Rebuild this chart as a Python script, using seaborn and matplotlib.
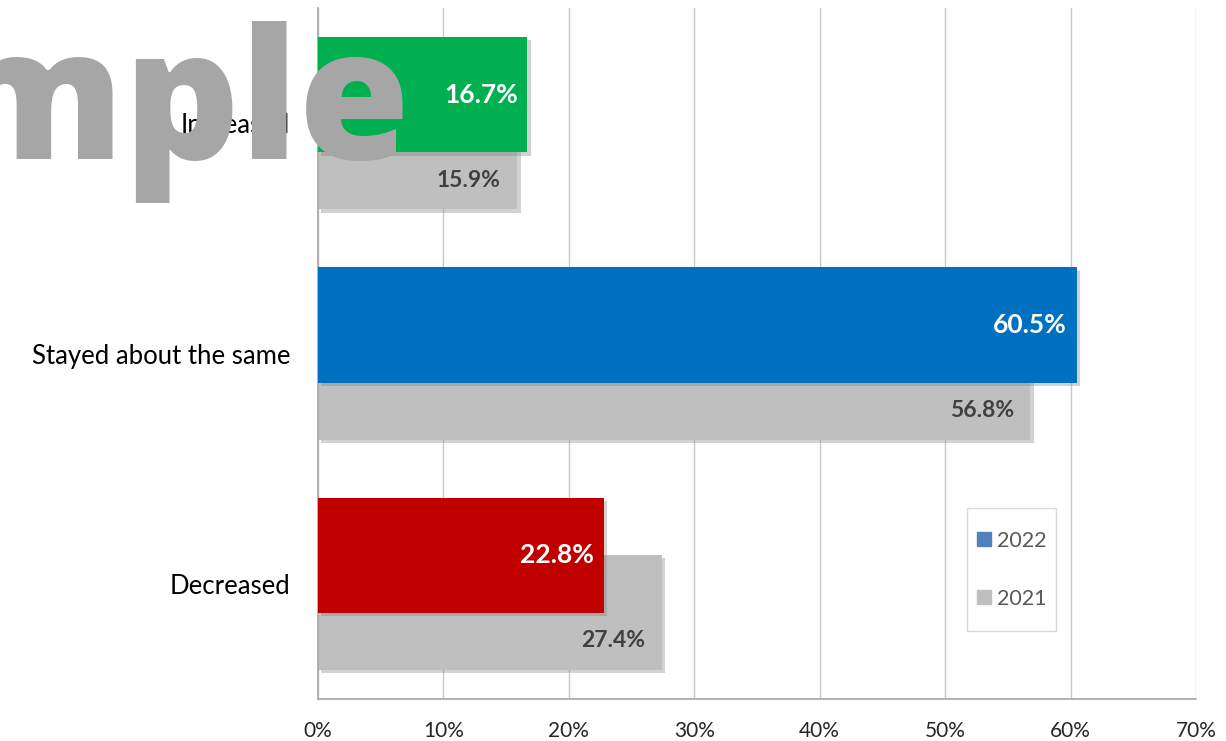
import matplotlib
matplotlib.use("Agg")
import matplotlib.pyplot as plt
import matplotlib.patheffects as pe
from matplotlib.lines import Line2D
from matplotlib.patches import Rectangle
from matplotlib.ticker import FuncFormatter, FixedLocator
import seaborn as sns
import pandas as pd

categories = ["Increased", "Stayed about the same", "Decreased"]
values_2022 = [16.7, 60.5, 22.8]
values_2021 = [15.9, 56.8, 27.4]
colors_2022 = ["#00B050", "#0070C0", "#C00000"]
color_2021 = "#BFBFBF"
legend_labels = ["2022", "2021"]
legend_colors = ["#4F81BD", "#BFBFBF"]
x_ticks = [0, 10, 20, 30, 40, 50, 60, 70]

sns.set_theme(style="white")
plt.rcParams["font.family"] = ["Lato", "DejaVu Sans"]

df21 = pd.DataFrame({"category": categories, "value": values_2021})
df22 = pd.DataFrame({"category": categories, "value": values_2022})

fig = plt.figure(figsize=(12.26, 7.41), dpi=100)
ax = fig.add_axes([318/1226, 1-699/741, 878/1226, 691/741])

OFF = 0.124
H = 0.5

shadow = [pe.SimplePatchShadow(offset=(2.5, -2.5), shadow_rgbFace="#7F7F7F", alpha=0.35), pe.Normal()]

sns.barplot(data=df21, x="value", y="category", order=categories, color=color_2021,
            width=H, ax=ax, saturation=1, zorder=2)
n21 = len(ax.patches)
for p in ax.patches:
    p.set_y(p.get_y() + OFF)
    p.set_path_effects(shadow)
    p.set_linewidth(0)

sns.barplot(data=df22, x="value", y="category", order=categories, hue="category",
            palette=colors_2022, width=H, ax=ax, saturation=1, legend=False, zorder=3)
for p in ax.patches[n21:]:
    p.set_y(p.get_y() - OFF)
    p.set_path_effects(shadow)
    p.set_linewidth(0)

# value labels
for i, (v22, v21) in enumerate(zip(values_2022, values_2021)):
    ax.annotate(f"{v22:.1f}%", xy=(v22, i - OFF), xytext=(-7, 0), textcoords="offset points",
                ha="right", va="center", color="white", fontsize=19, fontweight="bold", zorder=5)
    ax.annotate(f"{v21:.1f}%", xy=(v21, i + 2 * OFF), xytext=(-12, 0), textcoords="offset points",
                ha="right", va="center", color="#404040", fontsize=16.5, fontweight="bold", zorder=5)

ax.set_xlim(0, 70)
ax.set_ylim(2.5, -0.5)
ax.xaxis.set_major_locator(FixedLocator(x_ticks))
ax.xaxis.set_major_formatter(FuncFormatter(lambda v, pos: f"{v:.0f}%"))
ax.set_yticks(range(len(categories)))
ax.set_yticklabels(categories)
ax.set_yticks([-0.5, 0.5, 1.5, 2.5], minor=True)
ax.tick_params(axis="y", which="major", length=0, pad=20, labelsize=18.5, labelcolor="#000000")
ax.tick_params(axis="y", which="minor", length=7, width=1, color="#A6A6A6", direction="out")
ax.tick_params(axis="x", which="major", length=6, width=1, color="#A6A6A6", direction="out",
               labelsize=15, labelcolor="#262626", pad=10)
ax.set_xlabel("")
ax.set_ylabel("")

ax.grid(axis="x", color="#C8C8C8", linewidth=1, zorder=0)
ax.set_axisbelow(True)
for s in ["top", "right"]:
    ax.spines[s].set_visible(False)
for s in ["left", "bottom"]:
    ax.spines[s].set_color("#A6A6A6")
    ax.spines[s].set_linewidth(1.2)

# legend box
ax.add_patch(Rectangle((0.7392, 0.098), 0.1014, 0.1784, transform=ax.transAxes,
                       facecolor="white", edgecolor="#D9D9D9", linewidth=1, zorder=6))
handles = [Line2D([0], [0], marker="s", linestyle="", markersize=10,
                  markerfacecolor=c, markeredgecolor=c) for c in legend_colors]
leg = ax.legend(handles, legend_labels, loc="center left", bbox_to_anchor=(0.7392, 0.187),
                frameon=False, fontsize=15.5, labelspacing=1.75, handletextpad=0.3,
                borderpad=0.0, handlelength=0.6, borderaxespad=0.5)
leg.set_zorder(7)
for t in leg.get_texts():
    t.set_color("#595959")

# watermark
fig.text(410/1226, 1-159/741, "Sample", ha="right", va="baseline", fontsize=130,
         fontweight=800, color="#A6A6A6", family=["Open Sans", "DejaVu Sans"], zorder=10)

fig.savefig("out.png", dpi=100)
